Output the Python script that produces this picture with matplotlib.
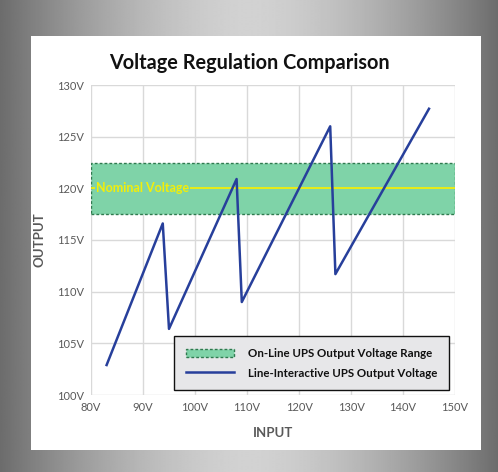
import numpy as np
import matplotlib
matplotlib.use("Agg")
import matplotlib.pyplot as plt
from matplotlib.patches import Rectangle, Patch
from matplotlib.lines import Line2D

# data
input_v = [83, 93.8, 95, 108, 109, 126, 127, 145]
output_v = [102.9, 116.6, 106.4, 120.9, 109.0, 126.0, 111.7, 127.7]
band_low, band_high = 117.5, 122.5
nominal = 120
xticks = [80, 90, 100, 110, 120, 130, 140, 150]
yticks = [100, 105, 110, 115, 120, 125, 130]

plt.rcParams['font.family'] = ['Lato', 'DejaVu Sans']

fig = plt.figure(figsize=(4.98, 4.72), dpi=100)

# gray gradient frame
bg = fig.add_axes([0, 0, 1, 1], zorder=-10)
t = np.linspace(-1, 1, 500)
prof = 1 - np.abs(t) ** 1.6
row = 108 + (210 - 108) * prof
img = np.tile(row, (2, 1))
bg.imshow(img, cmap='gray', vmin=0, vmax=255, aspect='auto', extent=[0, 1, 0, 1])
bg.add_patch(Rectangle((31 / 498, 1 - 450 / 472), 450 / 498, 414 / 472,
                       facecolor='white', edgecolor='none'))
bg.set_xlim(0, 1)
bg.set_ylim(0, 1)
bg.axis('off')

ax = fig.add_axes([91 / 498, 1 - 395 / 472, 364 / 498, 310 / 472])
ax.set_facecolor('none')

# on-line band and nominal line
ax.axhspan(band_low, band_high, facecolor='#7fd3a8', edgecolor='#2e7a4e',
           linestyle=(0, (2, 1.5)), linewidth=1, zorder=2)
ax.axhline(nominal, color='#f2ee0a', linewidth=1.3, zorder=3)
ax.text(81, nominal, 'Nominal Voltage', color='#f2ee0a', fontsize=9,
        fontweight='bold', va='center', ha='left', zorder=4,
        bbox=dict(facecolor='#7fd3a8', edgecolor='none', pad=0.5))

ax.plot(input_v, output_v, color='#273f9b', linewidth=1.8, zorder=5)

ax.set_xlim(80, 150)
ax.set_ylim(100, 130)
ax.set_xticks(xticks)
ax.set_yticks(yticks)
ax.set_xticklabels([f'{v}V' for v in xticks])
ax.set_yticklabels([f'{v}V' for v in yticks])
ax.tick_params(length=0, labelsize=8, labelcolor='#595959', pad=5)
ax.grid(True, color='#d9d9d9', linewidth=1, zorder=0)
ax.set_axisbelow(True)
for s in ax.spines.values():
    s.set_visible(False)

ax.set_xlabel('INPUT', fontsize=9.5, color='#595959', fontweight='bold', labelpad=10)
ax.set_ylabel('OUTPUT', fontsize=9.5, color='#595959', fontweight='bold', labelpad=8)

fig.text(0.5, 1 - 63 / 472, 'Voltage Regulation Comparison', ha='center', va='center',
         fontsize=14.3, fontweight='bold', color='#111111')

handles = [Patch(facecolor='#7fd3a8', edgecolor='#2e7a4e', linestyle=(0, (2, 1.5)), linewidth=1),
           Line2D([], [], color='#273f9b', linewidth=1.8)]
labels = ['On-Line UPS Output Voltage Range', 'Line-Interactive UPS Output Voltage']
leg = ax.legend(handles, labels, loc='lower right', bbox_to_anchor=(0.9835, 0.016),
                borderaxespad=0, fontsize=8.3, frameon=True, fancybox=False, framealpha=1,
                facecolor='#e7e7e9', edgecolor='#111111', borderpad=1.0,
                handlelength=4.2, handletextpad=1.2, labelspacing=0.75)
leg.get_frame().set_linewidth(1)
for txt in leg.get_texts():
    txt.set_fontweight('bold')
    txt.set_color('#111111')
leg.set_zorder(10)

fig.savefig('out.png', dpi=100)
